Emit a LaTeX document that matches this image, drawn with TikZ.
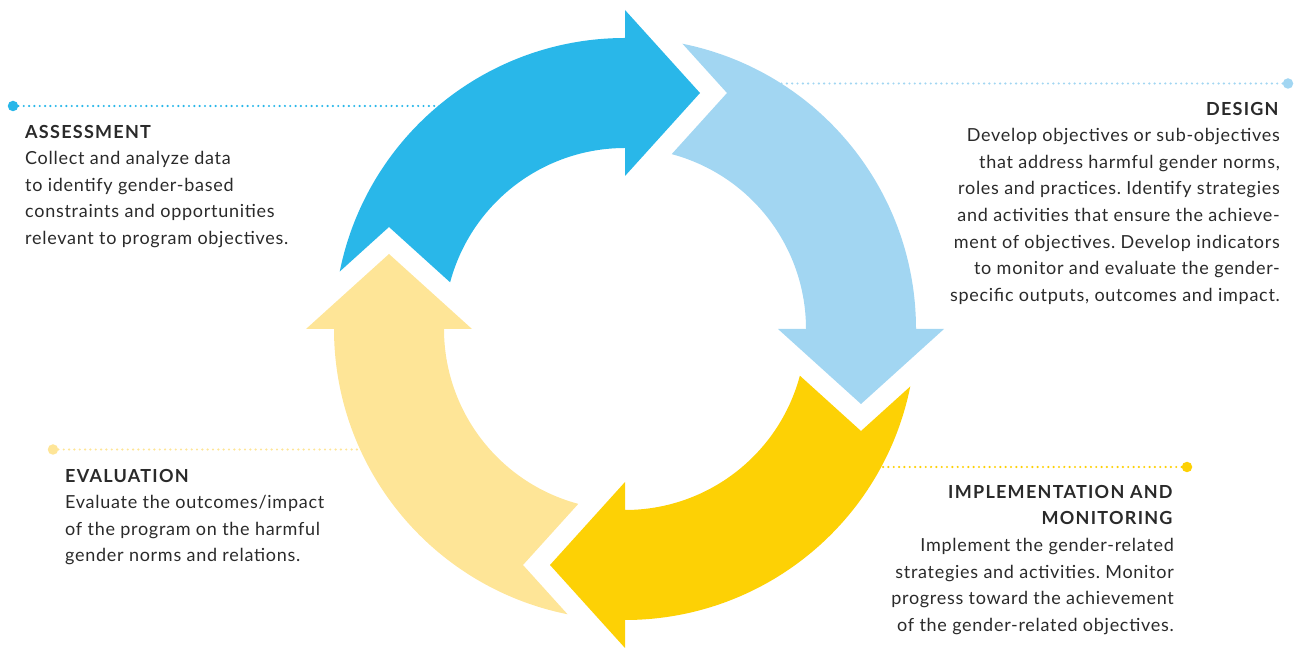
\documentclass[tikz,border=0pt]{standalone}
\usepackage{fontspec}
\setmainfont{Lato}[LetterSpace=4, BoldFeatures={LetterSpace=7}]
\definecolor{cblue}{HTML}{29B7E9}
\definecolor{clblue}{HTML}{A2D6F2}
\definecolor{cyellow}{HTML}{FDD105}
\definecolor{clyellow}{HTML}{FEE597}
\definecolor{ctext}{HTML}{2A2A2A}
\tikzset{
  pics/cyclearrow/.style={code={
    \fill[#1] (168.61:291) arc[start angle=168.61, end angle=90, radius=291]
      -- (0,319) -- (75,236) -- (0,153) -- (0,181)
      arc[start angle=90, end angle=165.05, radius=181]
      -- (-236,102) -- cycle;
  }},
  leader/.style={line width=2.4, dash pattern=on 0pt off 5.33pt, line cap=round},
  enddot/.style={circle, inner sep=0pt, minimum size=10.5},
  label/.style={inner sep=0pt, text=ctext, font=\fontsize{18}{26.6}\selectfont\frenchspacing},
}
\newcommand{\hd}[1]{\rule{0pt}{18pt}\textbf{#1}}
\begin{document}
\begin{tikzpicture}[x=1pt,y=1pt]
\useasboundingbox (0,0) rectangle (1299,648);
\coordinate (C) at (625,319);
% leader lines
\node[enddot, fill=cblue] (d1) at (13,542) {};
\coordinate (e1) at (440,542);
\draw[leader, cblue] (d1) -- (e1);
\node[enddot, fill=clblue] (d2) at (1288,564.5) {};
\coordinate (e2) at (780,564.5);
\draw[leader, clblue] (d2) -- (e2);
\node[enddot, fill=clyellow] (d4) at (53,198.5) {};
\coordinate (e4) at (362,198.5);
\draw[leader, clyellow] (d4) -- (e4);
\node[enddot, fill=cyellow] (d3) at (1187,181) {};
\coordinate (e3) at (879,181);
\draw[leader, cyellow] (d3) -- (e3);
% arrows
\pic at (C) {cyclearrow=cblue};
\pic[rotate=-90] at (C) {cyclearrow=clblue};
\pic[rotate=-180] at (C) {cyclearrow=cyellow};
\pic[rotate=90] at (C) {cyclearrow=clyellow};
% texts
\node[label, anchor=north west, align=left] (tassess) at (25,528)
  {\hd{ASSESSMENT}\\Collect and analyze data\\to identify gender-based\\constraints and opportunities\\relevant to program objectives.};
\node[label, anchor=north east, align=right] (tdesign) at (1280,551)
  {\hd{DESIGN}\\Develop objectives or sub-objectives\\that address harmful gender norms,\\roles and practices. Identify strategies\\and activities that ensure the achieve-\\ment of objectives. Develop indicators\\to monitor and evaluate the gender-\\specific outputs, outcomes and impact.};
\node[label, anchor=north west, align=left] (teval) at (65,184)
  {\hd{EVALUATION}\\Evaluate the outcomes/impact\\of the program on the harmful\\gender norms and relations.};
\node[label, anchor=north east, align=right] (timpl) at (1174,168)
  {\hd{IMPLEMENTATION AND}\\\textbf{MONITORING}\\Implement the gender-related\\strategies and activities. Monitor\\progress toward the achievement\\of the gender-related objectives.};
\end{tikzpicture}
\end{document}
